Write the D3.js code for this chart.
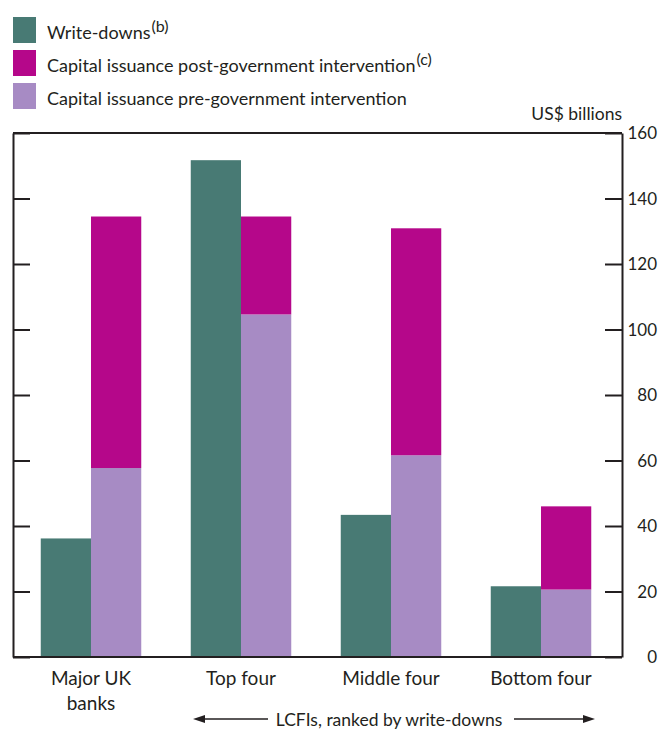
<!DOCTYPE html>
<html>
<head>
<meta charset="utf-8">
<script src="https://cdn.jsdelivr.net/npm/d3@7"></script>
<style>
  body { margin: 0; background: #fff; }
  svg text { font-family: Lato, "Open Sans", sans-serif; fill: #231f20; }
</style>
</head>
<body>
<svg id="chart" width="661" height="731"></svg>
<script>
//Data------------------------------------------------------------------
var categories = ['Major UK banks', 'Top four', 'Middle four', 'Bottom four'];
var categoryLines = [['Major UK', 'banks'], ['Top four'], ['Middle four'], ['Bottom four']];
var writeDowns = [36.2, 151.7, 43.4, 21.6];
var issuancePre = [57.7, 104.6, 61.6, 20.6];
var issuancePost = [76.8, 29.9, 69.3, 25.4];
var yTicks = [0, 20, 40, 60, 80, 100, 120, 140, 160];
var legendNames = ['Write-downs', 'Capital issuance post-government intervention', 'Capital issuance pre-government intervention'];
var legendNotes = ['(b)', '(c)', ''];

var colWrite = '#487a74';
var colPost = '#b5078a';
var colPre = '#a78bc4';
var legendColors = [colWrite, colPost, colPre];

//Layout----------------------------------------------------------------
var svg = d3.select('#chart');
var box = { left: 13, right: 622, top: 133, bottom: 657 };

var x = d3.scaleBand().domain(categories).range([16, 616]).paddingInner(0.33).paddingOuter(0.165);
var y = d3.scaleLinear().domain([0, 160]).range([box.bottom, box.top]);
var half = x.bandwidth() / 2;

//bars
var gBars = svg.append('g');
gBars.selectAll('rect.write')
	.data(categories)
	.enter()
	.append('rect')
	.attr('x', function (d) { return x(d); })
	.attr('width', half)
	.attr('y', function (d, i) { return y(writeDowns[i]); })
	.attr('height', function (d, i) { return y(0) - y(writeDowns[i]); })
	.style('fill', colWrite);

gBars.selectAll('rect.pre')
	.data(categories)
	.enter()
	.append('rect')
	.attr('x', function (d) { return x(d) + half; })
	.attr('width', half)
	.attr('y', function (d, i) { return y(issuancePre[i]); })
	.attr('height', function (d, i) { return y(0) - y(issuancePre[i]); })
	.style('fill', colPre);

gBars.selectAll('rect.post')
	.data(categories)
	.enter()
	.append('rect')
	.attr('x', function (d) { return x(d) + half; })
	.attr('width', half)
	.attr('y', function (d, i) { return y(issuancePre[i] + issuancePost[i]); })
	.attr('height', function (d, i) { return y(issuancePre[i]) - y(issuancePre[i] + issuancePost[i]); })
	.style('fill', colPost);

//frame and axes
svg.append('line')
	.attr('x1', box.left).attr('x2', box.right)
	.attr('y1', box.top).attr('y2', box.top)
	.style('stroke', '#231f20').style('stroke-width', 2);
svg.append('line')
	.attr('x1', box.left).attr('x2', box.right)
	.attr('y1', box.bottom).attr('y2', box.bottom)
	.style('stroke', '#231f20').style('stroke-width', 2);

var axisL = svg.append('g')
	.attr('transform', 'translate(' + box.left + ',0)')
	.call(d3.axisLeft(y).tickValues(yTicks).tickSizeInner(-17).tickSizeOuter(0).tickFormat(''));
var axisR = svg.append('g')
	.attr('transform', 'translate(' + box.right + ',0)')
	.call(d3.axisRight(y).tickValues(yTicks).tickSizeInner(-17).tickSizeOuter(0).tickPadding(0));

[axisL, axisR].forEach(function (a) {
	a.select('.domain').style('stroke', '#231f20').style('stroke-width', 2);
	a.selectAll('.tick line').style('stroke', '#231f20').style('stroke-width', 2);
});
axisR.selectAll('.tick text')
	.attr('x', 35)
	.attr('dy', '0.35em')
	.style('text-anchor', 'end')
	.style('font-size', '17px')
	.style('font-family', 'Lato, sans-serif')
	.style('fill', '#231f20');

svg.append('text')
	.attr('x', box.right)
	.attr('y', 120)
	.style('text-anchor', 'end')
	.style('font-size', '17.5px')
	.text('US$ billions');

//category labels
var gCat = svg.append('g');
categories.forEach(function (c, i) {
	var t = gCat.append('text')
		.attr('x', x(c) + x.bandwidth() / 2)
		.attr('y', 685)
		.style('text-anchor', 'middle')
		.style('font-size', '19px');
	categoryLines[i].forEach(function (line, k) {
		t.append('tspan')
			.attr('x', x(c) + x.bandwidth() / 2)
			.attr('dy', k === 0 ? 0 : 25)
			.text(line);
	});
});

//ranked-by arrow line
var arrowY = 719;
svg.append('text')
	.attr('x', 389)
	.attr('y', 726)
	.style('text-anchor', 'middle')
	.style('font-size', '17.5px')
	.text('LCFIs, ranked by write-downs');
svg.append('line')
	.attr('x1', 200).attr('x2', 268)
	.attr('y1', arrowY).attr('y2', arrowY)
	.style('stroke', '#231f20').style('stroke-width', 1.5);
svg.append('path')
	.attr('d', 'M193,' + arrowY + 'L205,' + (arrowY - 4) + 'L205,' + (arrowY + 4) + 'Z')
	.style('fill', '#231f20');
svg.append('line')
	.attr('x1', 514).attr('x2', 588)
	.attr('y1', arrowY).attr('y2', arrowY)
	.style('stroke', '#231f20').style('stroke-width', 1.5);
svg.append('path')
	.attr('d', 'M595,' + arrowY + 'L583,' + (arrowY - 4) + 'L583,' + (arrowY + 4) + 'Z')
	.style('fill', '#231f20');

//legend
var gLeg = svg.append('g');
legendNames.forEach(function (name, i) {
	var top = 17 + i * 33;
	gLeg.append('rect')
		.attr('x', 13).attr('y', top)
		.attr('width', 23).attr('height', 26)
		.style('fill', legendColors[i]);
	var t = gLeg.append('text')
		.attr('x', 47)
		.attr('y', top + 22)
		.style('font-size', '18px')
		.text(name);
	if (legendNotes[i]) {
		t.append('tspan')
			.attr('dx', 1)
			.attr('dy', -7)
			.style('font-size', '16px')
			.text(legendNotes[i]);
	}
});
</script>
</body>
</html>
